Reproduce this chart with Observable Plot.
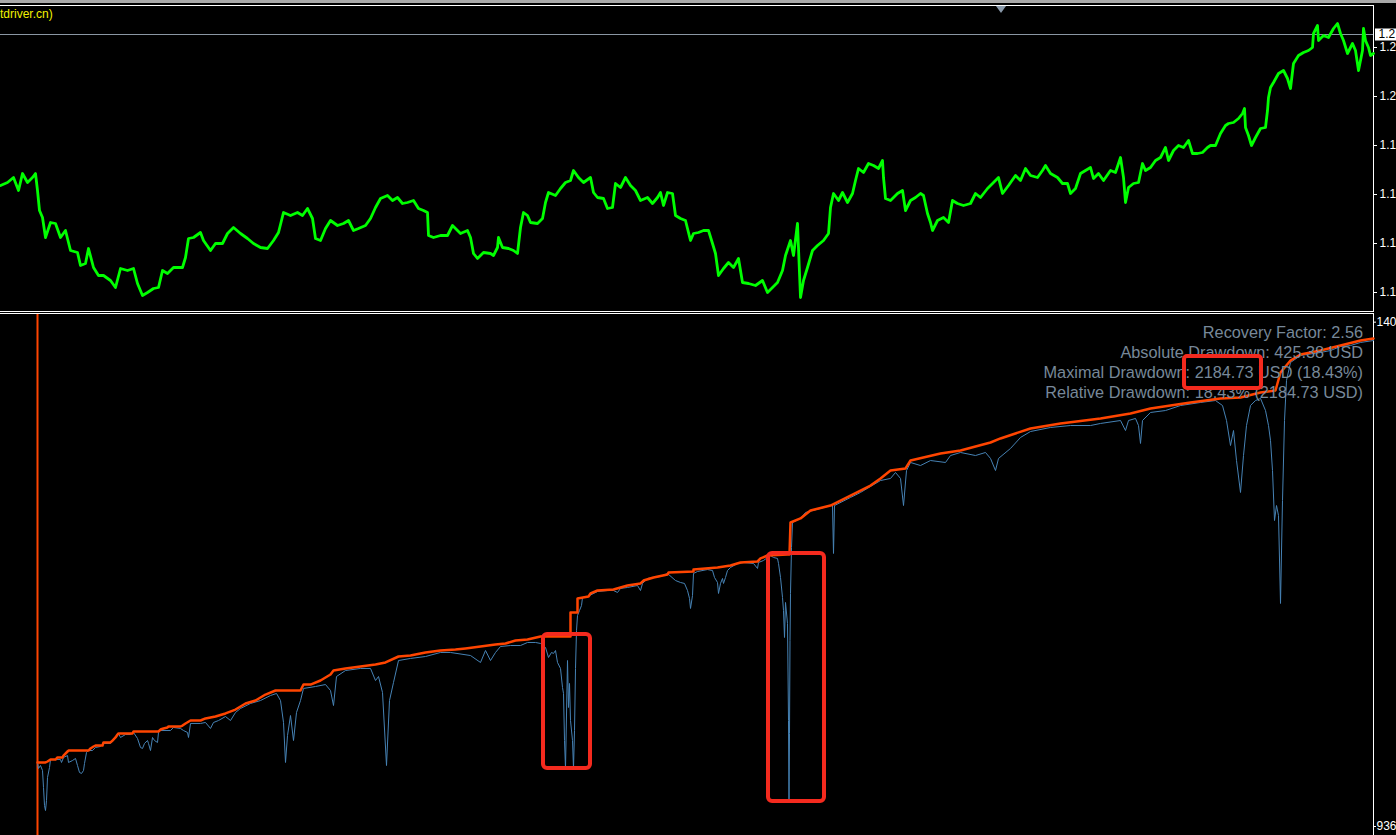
<!DOCTYPE html>
<html><head><meta charset="utf-8">
<script src="https://cdn.jsdelivr.net/npm/d3@7"></script>
<script src="https://cdn.jsdelivr.net/npm/@observablehq/plot@0.6"></script>
<style>
html,body{margin:0;padding:0;background:#000;width:1396px;height:835px;overflow:hidden;position:relative;font-family:"Liberation Sans",Arial,sans-serif;}
.abs{position:absolute;}
#strip{left:0;top:0;width:1396px;height:3px;background:#a8a8a8;}
#topBox{left:-1px;top:5px;width:1373px;height:305px;border:1px solid #fff;}
#botBox{left:-1px;top:313px;width:1373px;height:600px;border:1px solid #fff;}
#tri{left:996px;top:6px;width:0;height:0;border-left:5px solid transparent;border-right:5px solid transparent;border-top:7px solid #8a9aab;}
#title{left:0;top:8px;font-size:12px;line-height:12px;color:#f0f000;white-space:pre;}
#stats{right:33px;top:322px;font-size:16.3px;line-height:20px;color:#778899;text-align:right;white-space:pre;}
.hl{position:relative;}
.hl::after{content:"";position:absolute;left:-13px;right:-9px;top:-9px;bottom:-9px;border:4px solid #f42a1e;border-radius:5px;}
#top{left:0;top:0;}
#bot{left:0;top:313px;}
</style></head>
<body>
<div id="strip" class="abs"></div>
<div id="topBox" class="abs"></div>
<div id="botBox" class="abs"></div>
<div id="tri" class="abs"></div>
<div id="top" class="abs"></div>
<div id="bot" class="abs"></div>
<div id="title" class="abs"></div>
<div id="stats" class="abs"></div>
<script>
// ---------- data ----------
const symbolCaption = "tdriver.cn)";
const barDomain = [0, 1373];
const priceDomain = [1.1809, 1.2114];
const priceTicks = [1.2073, 1.2024, 1.1975, 1.1926, 1.1877, 1.1828];
const currentPrice = 1.2086;
const visibleLabelChars = 3; // the window cuts the price-scale labels after 3 characters
const priceSeries = [[0,1.1935],[7,1.1938],[13,1.1943],[18,1.1930],[22,1.1947],[27,1.1938],[32,1.1943],[35,1.1947],[37,1.1930],[39,1.1910],[42,1.1903],[45,1.1883],[50,1.1898],[55,1.1897],[60,1.1883],[65,1.1890],[70,1.1870],[77,1.1868],[80,1.1855],[85,1.1857],[88,1.1872],[93,1.1853],[98,1.1845],[103,1.1845],[110,1.1840],[115,1.1833],[120,1.1852],[127,1.1850],[133,1.1852],[137,1.1837],[142,1.1825],[147,1.1828],[153,1.1832],[158,1.1833],[162,1.1850],[167,1.1847],[173,1.1853],[182,1.1853],[185,1.1863],[188,1.1882],[193,1.1883],[200,1.1888],[203,1.1880],[210,1.1870],[215,1.1877],[222,1.1877],[227,1.1887],[233,1.1893],[240,1.1887],[247,1.1882],[253,1.1877],[260,1.1873],[267,1.1872],[273,1.1880],[278,1.1888],[283,1.1908],[290,1.1905],[297,1.1908],[302,1.1905],[307,1.1912],[312,1.1902],[315,1.1882],[320,1.1880],[325,1.1892],[330,1.1900],[337,1.1895],[343,1.1897],[348,1.1900],[353,1.1890],[358,1.1892],[365,1.1895],[370,1.1902],[375,1.1913],[380,1.1922],[387,1.1925],[392,1.1920],[397,1.1923],[402,1.1917],[407,1.1918],[413,1.1920],[418,1.1912],[423,1.1910],[427,1.1908],[428,1.1885],[433,1.1883],[440,1.1885],[447,1.1885],[452,1.1895],[457,1.1890],[460,1.1887],[467,1.1890],[470,1.1883],[473,1.1867],[477,1.1862],[483,1.1868],[490,1.1867],[493,1.1865],[497,1.1873],[498,1.1883],[502,1.1873],[508,1.1872],[513,1.1870],[517,1.1867],[520,1.1893],[523,1.1908],[527,1.1905],[530,1.1898],[537,1.1897],[542,1.1902],[545,1.1918],[548,1.1928],[555,1.1925],[560,1.1932],[565,1.1938],[570,1.1940],[573,1.1950],[578,1.1943],[583,1.1938],[590,1.1943],[593,1.1928],[597,1.1923],[603,1.1922],[607,1.1912],[612,1.1913],[615,1.1937],[620,1.1933],[625,1.1943],[630,1.1935],[635,1.1930],[640,1.1920],[647,1.1923],[652,1.1917],[657,1.1923],[660,1.1928],[663,1.1915],[667,1.1928],[672,1.1927],[675,1.1905],[680,1.1902],[685,1.1900],[690,1.1880],[693,1.1887],[698,1.1888],[703,1.1890],[708,1.1890],[712,1.1877],[715,1.1867],[718,1.1845],[723,1.1852],[728,1.1858],[733,1.1853],[738,1.1862],[742,1.1838],[748,1.1837],[755,1.1835],[762,1.1840],[767,1.1828],[772,1.1833],[777,1.1838],[782,1.1850],[785,1.1865],[790,1.1880],[793,1.1865],[797,1.1897],[800,1.1823],[803,1.1840],[807,1.1853],[812,1.1870],[817,1.1875],[823,1.1880],[828,1.1887],[830,1.1913],[833,1.1927],[838,1.1920],[842,1.1928],[847,1.1918],[852,1.1927],[855,1.1940],[858,1.1952],[863,1.1948],[868,1.1957],[873,1.1955],[878,1.1952],[882,1.1960],[883,1.1943],[885,1.1922],[890,1.1920],[897,1.1927],[902,1.1930],[905,1.1910],[910,1.1920],[915,1.1923],[920,1.1927],[923,1.1925],[927,1.1907],[930,1.1898],[932,1.1890],[937,1.1900],[943,1.1903],[948,1.1898],[952,1.1920],[957,1.1917],[963,1.1915],[970,1.1917],[975,1.1927],[980,1.1923],[987,1.1932],[993,1.1938],[998,1.1943],[1002,1.1927],[1008,1.1935],[1015,1.1945],[1020,1.1940],[1025,1.1952],[1030,1.1945],[1037,1.1943],[1042,1.1950],[1045,1.1955],[1050,1.1947],[1057,1.1943],[1062,1.1937],[1067,1.1937],[1070,1.1927],[1075,1.1932],[1080,1.1947],[1085,1.1950],[1090,1.1953],[1093,1.1942],[1098,1.1947],[1103,1.1940],[1110,1.1950],[1115,1.1948],[1120,1.1963],[1123,1.1943],[1125,1.1918],[1128,1.1933],[1133,1.1937],[1138,1.1938],[1142,1.1957],[1145,1.1950],[1150,1.1953],[1155,1.1960],[1160,1.1963],[1165,1.1973],[1168,1.1960],[1173,1.1970],[1178,1.1975],[1183,1.1973],[1188,1.1980],[1192,1.1967],[1197,1.1967],[1202,1.1968],[1207,1.1973],[1210,1.1975],[1215,1.1975],[1220,1.1987],[1225,1.1995],[1228,1.1997],[1233,1.1998],[1238,1.2002],[1242,1.2007],[1244,1.2012],[1245,1.1993],[1248,1.1985],[1251,1.1975],[1255,1.1983],[1260,1.1992],[1265,1.1993],[1267,1.2010],[1268,1.2023],[1270,1.2033],[1273,1.2038],[1278,1.2047],[1283,1.2050],[1287,1.2042],[1290,1.2032],[1293,1.2057],[1298,1.2065],[1303,1.2068],[1308,1.2070],[1312,1.2073],[1313,1.2087],[1317,1.2095],[1318,1.2080],[1323,1.2085],[1328,1.2083],[1333,1.2092],[1337,1.2097],[1340,1.2087],[1343,1.2080],[1347,1.2067],[1352,1.2077],[1355,1.2070],[1358,1.2050],[1362,1.2070],[1363,1.2092],[1365,1.2080],[1368,1.2073],[1370,1.2065],[1373,1.2067]];

const testStartBar = 37;
const equityDomain = [9277.2, 14070.4];
const equityTicks = [9360, 14000];
const balanceSeries = [[37,9949],[45,9949],[47,9958],[50,9976],[55,9976],[57,9995],[62,9995],[63,10013],[67,10050],[68,10059],[88,10059],[90,10078],[93,10096],[95,10105],[102,10105],[103,10133],[110,10133],[112,10151],[115,10179],[117,10206],[118,10216],[132,10216],[133,10234],[158,10234],[160,10252],[163,10262],[167,10271],[168,10280],[180,10280],[182,10289],[185,10308],[190,10335],[200,10335],[205,10354],[215,10372],[225,10400],[235,10436],[240,10464],[245,10492],[255,10519],[265,10574],[275,10611],[300,10611],[303,10666],[310,10666],[320,10703],[330,10758],[333,10795],[345,10814],[360,10832],[375,10850],[385,10869],[398,10924],[410,10933],[425,10961],[440,10979],[455,10988],[465,10998],[480,11016],[495,11034],[505,11044],[515,11071],[527,11080],[540,11108],[570,11108],[570,11329],[577,11329],[577,11458],[588,11476],[590,11504],[597,11531],[613,11540],[620,11559],[627,11577],[640,11596],[643,11623],[653,11651],[667,11678],[668,11697],[693,11706],[693,11724],[717,11743],[730,11761],[740,11789],[757,11798],[760,11826],[767,11853],[787,11862],[789,11862],[790,12157],[800,12194],[810,12267],[830,12313],[850,12405],[870,12497],[880,12562],[890,12635],[905,12654],[910,12727],[940,12792],[960,12819],[990,12893],[1000,12930],[1030,13022],[1060,13068],[1100,13114],[1130,13160],[1150,13206],[1190,13261],[1220,13298],[1240,13307],[1260,13353],[1275,13371],[1280,13537],[1290,13647],[1300,13702],[1320,13739],[1340,13785],[1360,13831],[1373,13850]];
const equitySeries = [[37,9949],[38,9894],[40,9921],[42,9875],[43,9719],[44,9553],[45,9507],[46,9599],[47,9811],[49,9903],[50,9976],[60,9976],[61,9949],[63,9995],[67,10013],[68,9949],[72,9967],[75,9986],[77,9921],[79,9857],[81,9848],[83,9875],[84,9940],[86,10041],[88,10059],[92,10059],[95,10087],[100,10096],[103,10124],[110,10124],[117,10197],[118,10216],[120,10179],[125,10206],[130,10206],[133,10225],[137,10170],[140,10087],[142,10078],[144,10124],[147,10151],[148,10124],[150,10059],[152,10179],[154,10151],[157,10133],[158,10225],[160,10243],[170,10243],[173,10271],[180,10262],[183,10243],[187,10225],[188,10179],[190,10308],[200,10308],[205,10317],[210,10262],[213,10317],[218,10335],[225,10372],[230,10335],[235,10409],[240,10446],[250,10492],[260,10519],[270,10565],[276,10584],[280,10519],[283,10317],[285,9949],[287,10197],[290,10381],[293,10151],[296,10409],[300,10519],[303,10630],[315,10648],[325,10666],[330,10611],[333,10473],[336,10740],[345,10795],[360,10814],[370,10814],[375,10703],[378,10740],[382,10593],[386,9921],[389,10519],[393,10685],[398,10887],[410,10906],[425,10924],[440,10961],[450,10961],[470,10933],[480,10869],[485,10979],[490,10887],[495,10961],[500,11016],[510,11025],[520,11025],[527,11053],[535,11053],[540,11044],[545,11007],[548,10915],[551,10961],[553,10952],[555,10979],[557,10869],[560,10814],[562,10639],[563,10584],[564,10151],[565,9894],[567,10887],[568,10455],[569,10676],[570,10335],[572,10151],[573,9894],[574,10243],[575,10814],[576,11163],[577,11301],[579,11347],[581,11393],[582,11467],[587,11476],[597,11522],[607,11531],[613,11531],[617,11513],[620,11550],[627,11559],[637,11577],[640,11531],[642,11596],[647,11642],[653,11651],[660,11660],[667,11688],[675,11623],[680,11605],[684,11596],[687,11531],[689,11458],[690,11366],[692,11485],[693,11688],[697,11706],[707,11724],[712,11715],[714,11651],[717,11605],[718,11504],[720,11596],[722,11642],[723,11596],[725,11651],[727,11715],[730,11743],[737,11780],[743,11789],[753,11780],[757,11734],[758,11789],[763,11807],[767,11835],[770,11853],[773,11835],[777,11826],[778,11780],[780,11651],[782,11467],[783,11347],[784,11099],[785,11421],[787,11228],[788,10335],[788.5,9599],[789,10216],[789.5,11071],[790,11504],[791,11927],[792,12157],[800,12194],[805,12249],[820,12286],[830,12313],[832,12313],[833,11872],[834,12313],[850,12387],[860,12433],[870,12488],[880,12543],[890,12562],[895,12617],[900,12562],[903,12313],[906,12635],[910,12709],[920,12681],[930,12727],[945,12709],[950,12773],[960,12801],[975,12773],[985,12801],[990,12746],[995,12635],[998,12746],[1010,12838],[1020,12939],[1030,12994],[1050,13031],[1070,13049],[1090,13049],[1100,13068],[1120,13095],[1125,13003],[1128,13095],[1135,13114],[1138,13049],[1140,12884],[1142,13095],[1150,13169],[1165,13187],[1180,13233],[1200,13261],[1215,13279],[1222,13233],[1226,13095],[1230,12865],[1233,13003],[1236,12727],[1240,12433],[1243,12773],[1246,13049],[1250,13233],[1255,13279],[1260,13298],[1265,13187],[1268,13049],[1270,12911],[1272,12635],[1274,12175],[1276,12313],[1278,12221],[1280,11412],[1282,12359],[1284,13095],[1286,13463],[1290,13629],[1300,13693],[1320,13721],[1330,13739],[1340,13776],[1350,13785],[1360,13813],[1373,13831]];
const highlightBoxes = [
  {bar1: 543, bar2: 590, low: 9894, high: 11126},
  {bar1: 768, bar2: 824, low: 9590, high: 11872}
];
const statLabels = ["Recovery Factor: ", "Absolute Drawdown: ", "Maximal Drawdown: ", "Relative Drawdown: "];
const statValues = ["2.56", "425.38 USD", "2184.73| USD (18.43%)", "18.43% (2184.73 USD)"];

// ---------- render ----------
const cut = s => s.slice(0, visibleLabelChars);
document.getElementById("title").textContent = symbolCaption;
const stats = document.getElementById("stats");
statLabels.forEach((lab, i) => {
  const line = document.createElement("div");
  const v = statValues[i];
  if (v.includes("|")) {
    const [hi, rest] = v.split("|");
    line.appendChild(document.createTextNode(lab));
    const s = document.createElement("span"); s.className = "hl"; s.textContent = hi;
    line.appendChild(s);
    line.appendChild(document.createTextNode(rest));
  } else line.textContent = lab + v;
  stats.appendChild(line);
});

const topChart = Plot.plot({
  width: 1396, height: 313, marginTop: 6, marginBottom: 2, marginLeft: 0, marginRight: 23,
  style: {background: "transparent", color: "#fff", fontFamily: "Liberation Sans", fontSize: "12px"},
  x: {domain: barDomain, axis: null},
  y: {domain: priceDomain, axis: "right", ticks: priceTicks, tickSize: 3, tickPadding: 3, tickFormat: d => cut(d.toFixed(5)), label: null},
  marks: [
    Plot.ruleY([currentPrice], {stroke: "#8a96a3", strokeWidth: 1}),
    Plot.line(priceSeries, {x: d => d[0], y: d => d[1], stroke: "#00ff00", strokeWidth: 2.8}),
    Plot.ruleY([currentPrice], {x1: barDomain[1] + 2, x2: barDomain[1] + 40, stroke: "#fff", strokeWidth: 12}),
    Plot.text([currentPrice], {y: d => d, frameAnchor: "right", dx: 5, text: d => cut(d.toFixed(5)), textAnchor: "start", fill: "#000"})
  ]
});
document.getElementById("top").appendChild(topChart);

const botChart = Plot.plot({
  width: 1396, height: 522, marginTop: 1, marginBottom: 0, marginLeft: 0, marginRight: 23,
  style: {background: "transparent", color: "#fff", fontFamily: "Liberation Sans", fontSize: "12px"},
  x: {domain: barDomain, axis: null},
  y: {domain: equityDomain, axis: "right", ticks: equityTicks, tickSize: 2, tickPadding: 1, tickFormat: d => cut(d.toFixed(2)), label: null},
  marks: [
    Plot.ruleX([testStartBar], {stroke: "#ff4500", strokeWidth: 2}),
    Plot.line(equitySeries, {x: d => d[0], y: d => d[1], stroke: "#4682b4", strokeWidth: 1}),
    Plot.line(balanceSeries, {x: d => d[0], y: d => d[1], stroke: "#ff4500", strokeWidth: 2.5}),
    Plot.rect(highlightBoxes, {x1: "bar1", x2: "bar2", y1: "low", y2: "high", fill: "none", stroke: "#f42a1e", strokeWidth: 4, rx: 4})
  ]
});
document.getElementById("bot").appendChild(botChart);
</script>
</body></html>
